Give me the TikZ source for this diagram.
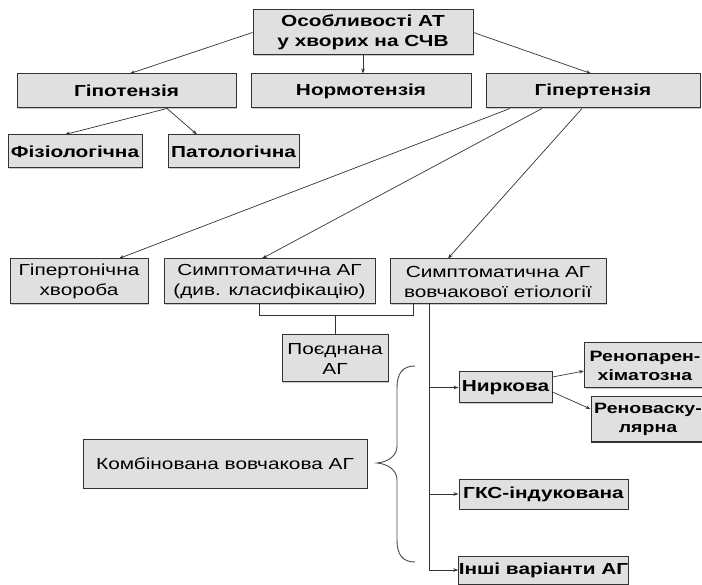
\documentclass[tikz,border=0pt]{standalone}
\usepackage{fontspec}
\setmainfont{Liberation Sans}[FakeStretch=1.3]
\usetikzlibrary{arrows.meta,shadows}
\begin{document}
\begin{tikzpicture}[x=1pt,y=-1pt,
  box/.style={draw=black!80, line width=1pt, fill=black!12, inner sep=0pt,
    align=center, font=\fontsize{16}{20}\selectfont,
    drop shadow={shadow xshift=1.2pt, shadow yshift=-1.2pt, fill=black!35, opacity=0.6}},
  boldbox/.style={box, font=\fontsize{16}{20}\selectfont\bfseries},
  edgebox/.style={box, font=\fontsize{15}{19}\selectfont\bfseries},
  arr/.style={draw=black!80, line width=0.7pt, -{Stealth[length=5pt,width=3.5pt]}},
  conn/.style={draw=black!80, line width=0.9pt}]
\useasboundingbox[fill=white] (0,0) rectangle (702,585);

\node[boldbox, minimum width=220pt, minimum height=45pt] (top) at (363,32.5) {Особливості АТ\\у хворих на СЧВ};
\node[boldbox, minimum width=219pt, minimum height=34pt] (hypo) at (126.5,91) {Гіпотензія};
\node[boldbox, minimum width=220pt, minimum height=34pt] (normo) at (361,91) {Нормотензія};
\node[boldbox, minimum width=214pt, minimum height=34pt] (hyper) at (593,91) {Гіпертензія};
\node[boldbox, minimum width=134pt, minimum height=33pt] (fiz) at (75,151.5) {Фізіологічна};
\node[boldbox, minimum width=131pt, minimum height=33pt] (pat) at (233.5,151.5) {Патологічна};

\node[box, minimum width=138pt, minimum height=45pt] (gh) at (79,281.5) {Гіпертонічна\\хвороба};
\node[box, minimum width=211pt, minimum height=45pt] (sd) at (269.5,281.5) {Симптоматична АГ\\(див. класифікацію)};
\node[box, minimum width=216pt, minimum height=45pt] (sv) at (498,281.5) {Симптоматична АГ\\вовчакової етіології};
\node[box, minimum width=106pt, minimum height=47pt] (poed) at (335,358.5) {Поєднана\\АГ};
\node[boldbox, minimum width=93pt, minimum height=31pt] (nyrk) at (505.5,387.5) {Ниркова};
\node[edgebox, minimum width=121pt, minimum height=45pt] (renop) at (645,365.5) {Ренопарен-\\хіматозна};
\node[edgebox, minimum width=114pt, minimum height=45pt] (renov) at (648,419.5) {Реноваску-\\лярна};
\node[box, minimum width=284pt, minimum height=48pt] (komb) at (225,464) {Комбінована вовчакова АГ};
\node[boldbox, minimum width=169pt, minimum height=30pt] (gks) at (543.5,494) {ГКС-індукована};
\node[boldbox, minimum width=169pt, minimum height=28pt] (inshi) at (543.5,570) {Інші варіанти АГ};

% arrows from top
\draw[arr] (top.west) -- ([xshift=3.5pt]hypo.north);
\draw[arr] (top.south) -- (top.south |- normo.north);
\draw[arr] (top.east) -- ([xshift=-2pt]hyper.north);
% hypotension
\draw[arr] ([xshift=40.5pt]hypo.south) -- ([xshift=-10pt]fiz.north);
\draw[arr] ([xshift=40.5pt]hypo.south) -- ([xshift=-36.5pt]pat.north);
% hypertension
\draw[arr] ([xshift=-83pt]hyper.south) -- ([xshift=40pt]gh.north);
\draw[arr] ([xshift=-51pt]hyper.south) -- ([xshift=-7.5pt]sd.north);
\draw[arr] ([xshift=-11pt]hyper.south) -- ([xshift=-50pt]sv.north);

% bracket joining
\coordinate (brk) at (336,315);
\draw[conn] ([xshift=-10.5pt]sd.south) |- ([xshift=-85pt]sv.south |- brk) -- ([xshift=-85pt]sv.south);
\draw[conn] (poed.north) -- (poed.north |- brk);

% spine
\coordinate (spine) at ([xshift=-69pt]sv.south);
\draw[arr] (spine) |- (nyrk.west);
\draw[arr] (spine) |- (gks.west);
\draw[arr] (spine) |- (inshi.west);

% renal branches
\draw[arr] ([yshift=10.5pt]nyrk.east) -- ([yshift=-5.5pt]renop.west);
\draw[arr] ([yshift=-4.5pt]nyrk.east) -- ([yshift=10.5pt]renov.west);

% brace
\draw[draw=black!70, line width=0.9pt]
  (415,366) .. controls (402,366) and (397,374) .. (397,388)
  -- (397,446) .. controls (397,456) and (388,462) .. (377,463)
  .. controls (388,464) and (397,470) .. (397,480)
  -- (397,540) .. controls (397,554) and (402,562) .. (415,562);
\end{tikzpicture}
\end{document}
